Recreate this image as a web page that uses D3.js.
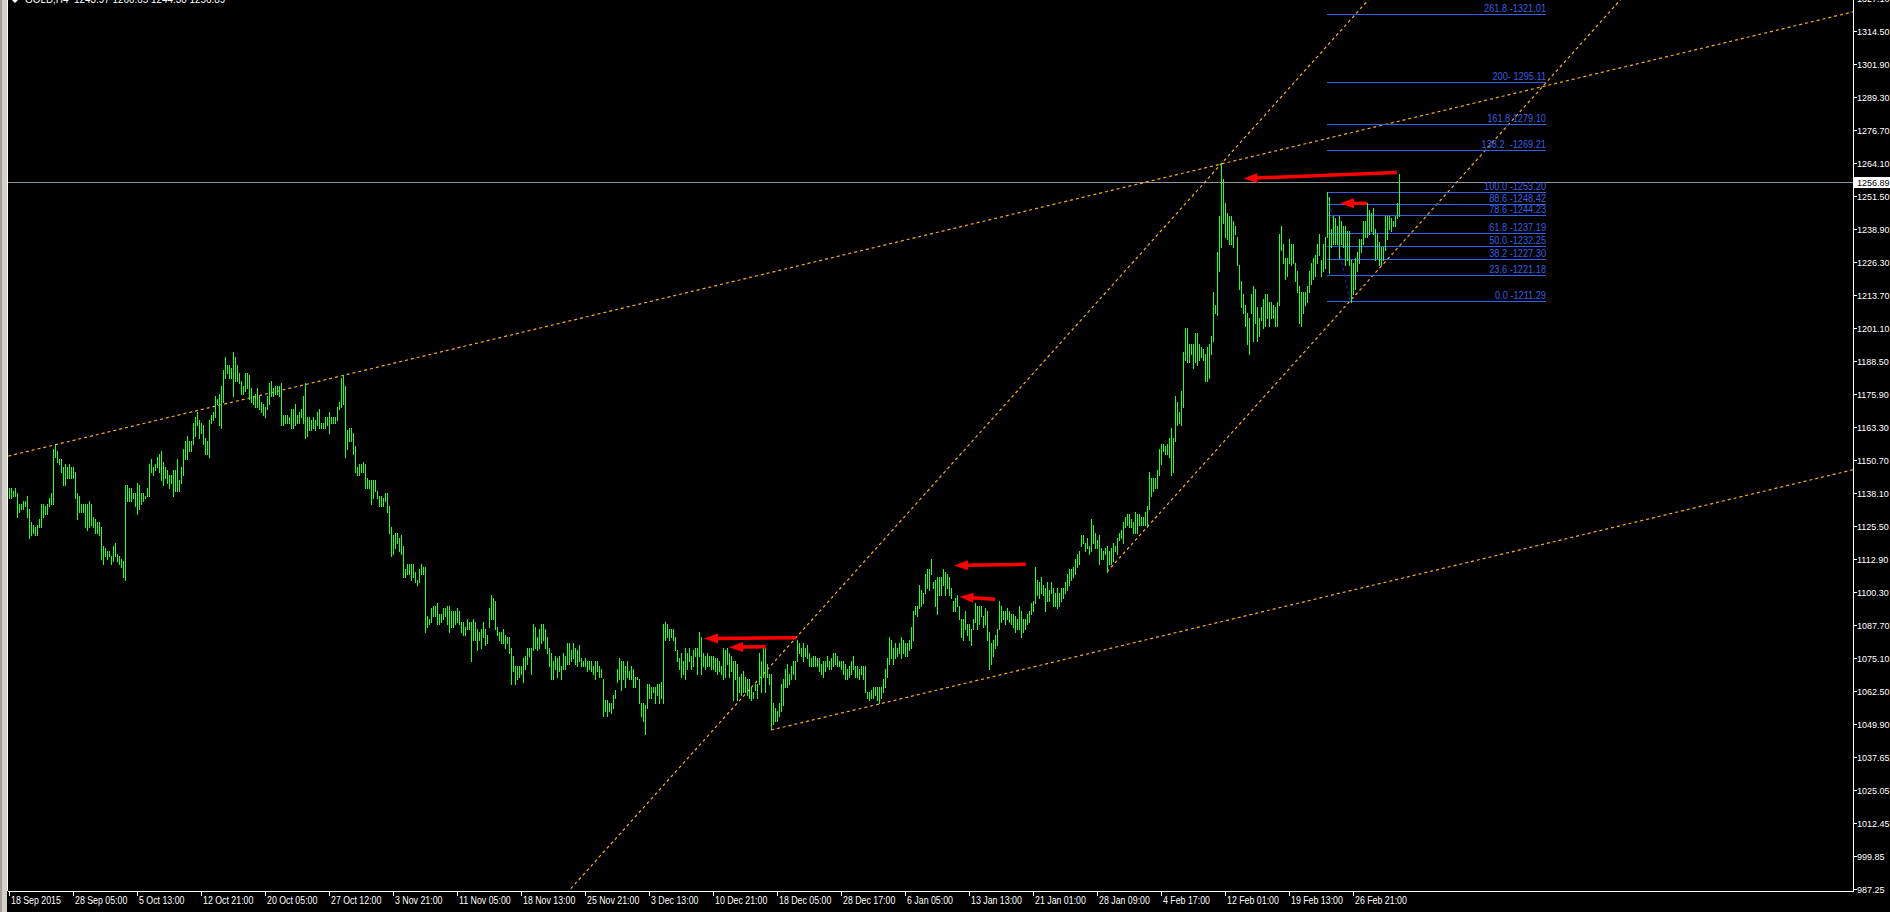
<!DOCTYPE html>
<meta charset="utf-8">
<style>
  body { margin: 0; background: #000; }
  svg { display: block; }
  text { font-family: "Liberation Sans", Arial, sans-serif; }
</style>
<body>
<script src="https://d3js.org/d3.v7.min.js"></script>
<script>
var width = 1890, height = 912;
var plotLeft = 8, plotRight = 1853, plotBottom = 891;

// GOLD H4 bars (high / low per bar)
var hi = [
  // 18 Sep - 3 Nov
  1140,1140,1139,1140,1138,1134,1134,1135,1135,1137,1132,1127,1126,1125,1126,1128,1134,1134,1133,1134,
  1136,1138,1155,1157,1154,1151,1151,1148,1149,1148,1149,1148,1148,1146,1138,1137,1134,1134,1134,1134,
  1135,1134,1129,1128,1127,1127,1125,1118,1117,1116,1116,1114,1118,1119,1115,1114,1113,1112,1141,1141,
  1140,1140,1138,1138,1142,1141,1138,1138,1137,1140,1149,1151,1148,1149,1152,1153,1154,1150,1148,1147,
  1145,1145,1147,1147,1151,1143,1148,1155,1158,1160,1158,1158,1165,1167,1169,1166,1165,1164,1159,1158,
  1166,1168,1169,1175,1174,1176,1179,1185,1190,1187,1187,1186,1192,1190,1187,1184,1181,1179,1184,1184,
  1183,1178,1175,1176,1178,1175,1173,1172,1171,1175,1180,1181,1178,1179,1179,1179,1180,1168,1168,1168,
  1167,1170,1170,1172,1168,1169,1170,1175,1180,1167,1167,1166,1167,1166,1169,1170,1165,1165,1167,1167,
  1169,1167,1167,1167,1171,1173,1182,1183,1179,1162,1163,1163,1161,1156,1148,1149,1149,1150,1149,1144,
  1143,1143,1143,1143,1139,1137,1137,1136,1138,1138,1133,1125,1122,1123,1123,1121,1122,1118,1109,1111,
  1111,1111,1111,1108,1105,1109,1111,1110,1110,1091,1090,1094,1095,1095,1096,1092,1092,1094,1094,1095,
  1095,1093,1093,1093,1094,1093,1089,1089,1087,1090,1089,
  // Nov - Jan
  1089,1090,1089,1086,1085,1086,1089,1086,1084,1094,1099,1098,1097,1087,1085,1085,1086,1084,1083,1083,
  1079,1076,1072,1072,1072,1072,1075,1076,1079,1079,1079,1088,1087,1083,1086,1088,1088,1086,1083,1079,
  1077,1074,1076,1075,1076,1072,1077,1076,1081,1081,1078,1081,1079,1078,1080,1075,1074,1075,1074,1074,
  1074,1072,1074,1074,1072,1071,1067,1059,1059,1058,1058,1061,1063,1071,1075,1074,1074,1072,1074,1070,
  1072,1071,1068,1068,1067,1058,1058,1057,1065,1065,1064,1064,1064,1065,1065,1066,1088,1089,1088,1086,
  1086,1086,1083,1078,1075,1077,1074,1079,1077,1079,1076,1078,1079,1079,1085,1083,1077,1076,1077,1076,
  1076,1076,1075,1075,1074,1072,1079,1078,1079,1077,1076,1074,1074,1073,1068,1069,1070,1068,1067,1067,
  1064,1062,1065,1065,1077,1074,1079,1079,1073,1069,1069,1058,1056,1055,1058,1065,1067,1071,1073,1069,
  1072,1074,1074,1082,1081,1079,1081,1079,1080,1077,1075,1076,1076,1075,1075,1073,1074,1074,1076,1074,
  1075,1077,1077,1076,1074,1074,1074,1073,1071,1072,1074,1076,1072,1072,1071,1072,1072,1072,1062,1062,
  1063,1064,1064,1064,1064,1064,1067,1071,1075,1083,1082,1079,1081,1079,1081,1083,1082,1081,1081,1082,
  1087,1093,1095,1095,1103,1101,1100,1107,1109,1109,1113,1104,1105,1106,1106,1106,1109,1108,1107,1106,
  1102,1097,1098,1099,1095,1090,1090,1093,1088,1088,1086,1090,1096,1095,1095,1095,1091,1094,1093,1085,
  1081,1082,1084,1086,1097,1095,1093,1093,1094,1093,1092,1092,1091,1090,1095,1093,1090,1090,1092,1093,
  1096,1097,1110,1105,1104,1106,1103,1102,1104,1101,1104,1102,1100,1102,1100,1102,1102,1104,1107,1109,
  1109,1110,1113,1115,1116,
  // late Jan - 11 Feb
  1122,1122,1119,1121,1118,1128,1126,1123,1120,1122,1117,1116,1117,1118,1116,1117,1119,1118,1121,1123,
  1124,1127,1129,1130,1130,1128,1127,1131,1130,1130,1129,1129,1131,1133,1146,1144,1144,1144,1147,1155,
  1157,1157,1156,1157,1159,1163,1159,1175,1173,1169,1177,1192,1201,1201,1195,1195,1195,1199,1199,1195,
  1194,1193,1191,1194,1195,1198,1215,1210,1230,1244,1264,
  // 11 Feb - 1 Mar
  1258,1249,1245,1244,1244,1242,1240,1236,1225,1219,1214,1210,1207,1205,1214,1217,1216,1209,1205,1209,
  1212,1214,1214,1211,1211,1210,1209,1211,1237,1240,1233,1228,1228,1235,1233,1233,1226,1223,1217,1215,
  1215,1215,1217,1223,1226,1228,1229,1233,1237,1227,1233,1236,1253,1251,1239,1244,1243,1240,1244,1242,
  1240,1240,1238,1238,1227,1226,1228,1230,1235,1235,1242,1242,1249,1246,1245,1247,1239,1237,1234,1232,
  1232,1244,1244,1244,1243,1242,1244,1249,1260
];
var lo = [
  1136,1136,1137,1137,1129,1131,1132,1132,1133,1129,1121,1122,1123,1122,1122,1125,1125,1129,1130,1130,
  1133,1134,1134,1152,1150,1149,1146,1141,1141,1144,1144,1144,1144,1136,1128,1131,1131,1131,1125,1124,
  1125,1126,1125,1123,1123,1122,1113,1111,1114,1113,1114,1111,1112,1114,1112,1111,1110,1106,1105,1135,
  1135,1135,1136,1133,1130,1132,1134,1135,1136,1137,1137,1146,1145,1147,1148,1146,1143,1141,1144,1142,
  1140,1142,1137,1139,1139,1139,1142,1145,1151,1151,1154,1154,1157,1160,1164,1159,1161,1157,1153,1153,
  1152,1165,1166,1167,1172,1164,1163,1173,1182,1184,1182,1182,1175,1181,1181,1180,1176,1176,1177,1178,
  1174,1173,1172,1171,1171,1170,1169,1168,1167,1170,1172,1175,1175,1176,1176,1175,1164,1164,1165,1165,
  1165,1163,1163,1164,1165,1165,1167,1165,1159,1160,1162,1162,1163,1162,1164,1163,1163,1163,1163,1164,
  1161,1165,1165,1165,1166,1170,1171,1172,1152,1155,1158,1158,1153,1146,1145,1145,1146,1146,1140,1140,
  1140,1134,1136,1139,1136,1133,1133,1133,1135,1131,1123,1114,1115,1117,1119,1116,1115,1106,1106,1107,
  1107,1105,1106,1104,1103,1104,1107,1107,1085,1087,1088,1089,1091,1091,1088,1088,1089,1090,1091,1088,
  1085,1087,1087,1088,1089,1088,1085,1084,1084,1086,1086,
  1074,1082,1082,1078,1082,1079,1083,1080,1081,1087,1090,1090,1086,1084,1082,1081,1081,1079,1081,1077,
  1065,1070,1065,1067,1068,1069,1066,1071,1073,1076,1069,1078,1079,1078,1079,1081,1082,1079,1077,1072,
  1067,1067,1071,1068,1070,1067,1071,1071,1073,1073,1074,1075,1073,1072,1074,1072,1072,1072,1070,1071,
  1070,1069,1067,1070,1068,1068,1053,1055,1053,1055,1054,1056,1060,1066,1067,1063,1067,1064,1068,1067,
  1067,1064,1064,1067,1058,1053,1051,1046,1056,1060,1060,1062,1058,1061,1058,1060,1058,1082,1083,1082,
  1083,1082,1078,1074,1071,1068,1069,1067,1071,1074,1071,1072,1076,1069,1076,1069,1072,1071,1072,1072,
  1071,1071,1070,1069,1070,1069,1067,1068,1073,1068,1070,1059,1067,1059,1062,1061,1062,1062,1061,1060,
  1059,1060,1063,1060,1065,1062,1068,1062,1068,1065,1048,1050,1051,1051,1053,1055,1057,1064,1064,1065,
  1067,1069,1067,1074,1077,1076,1074,1076,1075,1072,1072,1072,1072,1072,1070,1069,1068,1070,1072,1071,
  1071,1072,1073,1072,1072,1071,1069,1067,1067,1068,1069,1071,1068,1068,1067,1069,1067,1062,1060,1059,
  1060,1060,1061,1059,1058,1060,1062,1064,1068,1073,1075,1073,1075,1076,1077,1075,1077,1076,1076,1078,
  1079,1082,1092,1091,1094,1095,1096,1100,1102,1101,1107,1102,1095,1092,1099,1099,1103,1099,1102,1099,
  1098,1093,1093,1095,1090,1083,1082,1086,1084,1082,1080,1086,1089,1086,1088,1091,1087,1088,1082,1071,
  1073,1076,1079,1080,1086,1089,1090,1088,1090,1089,1088,1087,1085,1086,1086,1083,1085,1086,1088,1089,
  1092,1093,1096,1099,1098,1100,1099,1093,1097,1097,1100,1095,1095,1094,1095,1097,1098,1100,1101,1103,
  1105,1106,1107,1110,1111,
  1118,1119,1116,1117,1115,1116,1119,1117,1117,1111,1113,1113,1115,1108,1111,1111,1112,1116,1115,1120,
  1121,1119,1125,1126,1125,1125,1123,1123,1123,1126,1126,1126,1126,1125,1132,1137,1139,1140,1140,1145,
  1149,1154,1153,1153,1152,1145,1146,1158,1164,1165,1164,1171,1189,1188,1188,1191,1186,1188,1187,1189,
  1190,1189,1181,1181,1182,1191,1196,1207,1206,1223,1232,
  1241,1236,1235,1233,1233,1232,1237,1225,1216,1209,1207,1202,1195,1191,1207,1196,1203,1196,1198,1204,
  1201,1202,1205,1202,1205,1205,1202,1202,1210,1231,1226,1220,1221,1226,1225,1226,1219,1215,1203,1202,
  1207,1210,1211,1215,1218,1220,1221,1226,1229,1221,1223,1224,1236,1222,1232,1233,1233,1233,1228,1233,
  1232,1225,1227,1225,1211,1214,1216,1223,1226,1230,1233,1236,1236,1237,1238,1237,1227,1228,1225,1225,
  1227,1231,1235,1239,1238,1240,1240,1243,1244
];

var title = "GOLD,H4  1243.97 1260.05 1244.30 1256.89";
var lastPrice = 1256.89;

var dateLabels = ["18 Sep 2015","28 Sep 05:00","5 Oct 13:00","12 Oct 21:00","20 Oct 05:00","27 Oct 12:00",
  "3 Nov 21:00","11 Nov 05:00","18 Nov 13:00","25 Nov 21:00","3 Dec 13:00","10 Dec 21:00","18 Dec 05:00",
  "28 Dec 17:00","6 Jan 05:00","13 Jan 13:00","21 Jan 01:00","28 Jan 09:00","4 Feb 17:00","12 Feb 01:00",
  "19 Feb 13:00","26 Feb 21:00"];
var dateIdx = [0,32,64,96,128,160,192,224,256,288,320,352,384,416,448,480,512,544,576,608,640,672];

var priceTicks = [1327.1,1314.5,1301.9,1289.3,1276.7,1264.1,1251.5,1238.9,1226.3,1213.7,1201.1,1188.5,1175.9,
  1163.3,1150.7,1138.1,1125.5,1112.9,1100.3,1087.7,1075.1,1062.5,1049.9,1037.3,1024.7,1012.1,999.5,986.9];
var priceTickLabels = ["1327.10","1314.50","1301.90","1289.30","1276.70","1264.10","1251.50","1238.90","1226.30",
  "1213.70","1201.10","1188.50","1175.90","1163.30","1150.70","1138.10","1125.50","1112.90","1100.30","1087.70",
  "1075.10","1062.50","1049.90","1037.65","1025.05","1012.45","999.85","987.25"];

// fibonacci retracement
var fibLabels = ["0.0 -1211.29","23.6 -1221.18","38.2 -1227.30","50.0 -1232.25","61.8 -1237.19","78.6 -1244.23",
  "88.6 -1248.42","100.0 -1253.20","138.2  -1269.21","161.8 1279.10","200- 1295.11","261.8 -1321.01"];
var fibPrices = [1211.29,1221.18,1227.30,1232.25,1237.19,1244.23,1248.42,1253.20,1269.21,1279.10,1295.11,1321.01];
var fibAnchors = [[659, 1253.20], [670.5, 1211.29]];
var fibEnd = 768.5;

// trend lines: two points [bar, price], extended left and/or right
var trendLines = [
  { a: [23, 1156.5], b: [606, 1263.7], left: true },
  { a: [381, 1047.6], b: [540.5, 1076.9], left: false },
  { a: [349, 1045.0], b: [606, 1263.7], left: true },
  { a: [549, 1108.0], b: [669, 1210.1], left: false }
];

// red arrows: tail [bar, price] -> tip [bar, price]
var arrows = [
  [693.9, 1260.5, 617.2, 1258.2],
  [678.9, 1248.7, 665.5, 1248.7],
  [508.4, 1110.9, 472.5, 1110.4],
  [493.0, 1097.5, 475.2, 1098.5],
  [393.6, 1082.8, 347.5, 1082.5],
  [378.4, 1079.4, 360.0, 1079.2]
];

var x = d3.scaleLinear().domain([0, 695]).range([9, 1399]);
var y = d3.scaleLinear().domain([1314.5, 986.9]).range([31, 889]);

// squeeze text horizontally, the terminal font is narrow
function narrow(sel, f) {
  sel.each(function() {
    var w = this.getComputedTextLength();
    d3.select(this).attr("textLength", w * f).attr("lengthAdjust", "spacingAndGlyphs");
  });
}

var svg = d3.select("body").append("svg")
    .attr("width", width)
    .attr("height", height)
    .style("background", "#000");

svg.append("clipPath").attr("id", "plot")
  .append("rect").attr("x", plotLeft).attr("y", 0)
  .attr("width", plotRight - plotLeft).attr("height", plotBottom);

// window edge on the left
svg.append("rect").attr("x", 0).attr("y", 0).attr("width", 7).attr("height", height).attr("fill", "#d4d0c8");
svg.append("rect").attr("x", 0).attr("y", 0).attr("width", 2).attr("height", height).attr("fill", "#a0a0a0");
svg.append("line").attr("x1", 7.5).attr("x2", 7.5).attr("y1", 0).attr("y2", plotBottom)
  .attr("stroke", "#fff");

var g = svg.append("g").attr("clip-path", "url(#plot)");

// last price line
g.append("line")
  .attr("x1", plotLeft).attr("x2", plotRight)
  .attr("y1", Math.round(y(lastPrice)) + 0.5).attr("y2", Math.round(y(lastPrice)) + 0.5)
  .attr("stroke", "#8c96a0");

// trend lines
trendLines.forEach(function(t) {
  var x1 = x(t.a[0]), y1 = y(t.a[1]), x2 = x(t.b[0]), y2 = y(t.b[1]);
  var dx = x2 - x1, dy = y2 - y1;
  var k = 3000 / Math.sqrt(dx * dx + dy * dy);
  var sx = t.left ? x1 - dx * k : x1, sy = t.left ? y1 - dy * k : y1;
  g.append("line")
    .attr("x1", sx).attr("y1", sy)
    .attr("x2", x1 + dx * k).attr("y2", y1 + dy * k)
    .attr("stroke", "#ffaa22")
    .attr("stroke-width", 1.2)
    .attr("stroke-dasharray", "3,3");
});

// fibo levels
var fib = g.append("g");
fib.selectAll("line.lvl")
  .data(fibPrices)
  .join("line")
  .attr("class", "lvl")
  .attr("x1", x(fibAnchors[0][0])).attr("x2", x(fibEnd))
  .attr("y1", function(d) { return Math.round(y(d)) + 0.5; })
  .attr("y2", function(d) { return Math.round(y(d)) + 0.5; })
  .attr("stroke", "#3561e6");
fib.selectAll("text")
  .data(fibPrices)
  .join("text")
  .attr("x", x(fibEnd))
  .attr("y", function(d) { return Math.round(y(d)) - 2; })
  .attr("text-anchor", "end")
  .attr("font-size", 10)
  .attr("fill", "#3a5ee0")
  .style("white-space", "pre")
  .text(function(d, i) { return fibLabels[i]; })
  .call(narrow, 0.92);
fib.append("line")
  .attr("x1", x(fibAnchors[0][0])).attr("y1", y(fibAnchors[0][1]))
  .attr("x2", x(fibAnchors[1][0])).attr("y2", y(fibAnchors[1][1]))
  .attr("stroke", "#2424e0")
  .attr("stroke-dasharray", "3,3");

// bars
g.append("g")
  .selectAll("line")
  .data(hi)
  .join("line")
  .attr("x1", function(d, i) { return Math.round(x(i)) + 0.5; })
  .attr("x2", function(d, i) { return Math.round(x(i)) + 0.5; })
  .attr("y1", function(d) { return Math.round(y(d)); })
  .attr("y2", function(d, i) { return Math.round(y(lo[i])) + 1; })
  .attr("stroke", "#22ff22")
  .attr("shape-rendering", "crispEdges");

// red arrows
var headLen = 14, headHalf = 5;
arrows.forEach(function(a) {
  var x1 = x(a[0]), y1 = y(a[1]), x2 = x(a[2]), y2 = y(a[3]);
  var ang = Math.atan2(y2 - y1, x2 - x1);
  var bx = x2 - headLen * Math.cos(ang), by = y2 - headLen * Math.sin(ang);
  var px = -Math.sin(ang) * headHalf, py = Math.cos(ang) * headHalf;
  g.append("line")
    .attr("x1", x1).attr("y1", y1).attr("x2", bx + Math.cos(ang)).attr("y2", by + Math.sin(ang))
    .attr("stroke", "#ff0000").attr("stroke-width", 3.5);
  g.append("polygon")
    .attr("points", [[x2, y2], [bx + px, by + py], [bx - px, by - py]].map(function(p) { return p.join(","); }).join(" "))
    .attr("fill", "#ff0000");
});

// axes frame
svg.append("line").attr("x1", plotRight + 0.5).attr("x2", plotRight + 0.5)
  .attr("y1", 0).attr("y2", plotBottom + 1).attr("stroke", "#fff");
svg.append("line").attr("x1", plotLeft).attr("x2", plotRight + 1)
  .attr("y1", plotBottom + 0.5).attr("y2", plotBottom + 0.5).attr("stroke", "#fff");

// price scale
var py = svg.append("g");
py.selectAll("line")
  .data(priceTicks)
  .join("line")
  .attr("x1", plotRight + 1).attr("x2", plotRight + 4)
  .attr("y1", function(d) { return Math.round(y(d)) + 0.5; })
  .attr("y2", function(d) { return Math.round(y(d)) + 0.5; })
  .attr("stroke", "#fff");
py.selectAll("text")
  .data(priceTicks)
  .join("text")
  .attr("x", plotRight + 4)
  .attr("y", function(d) { return Math.round(y(d)) + 4; })
  .attr("font-size", 9)
  .attr("fill", "#fff")
  .text(function(d, i) { return priceTickLabels[i]; });

// last price box
svg.append("rect")
  .attr("x", plotRight + 1).attr("y", Math.round(y(lastPrice)) - 5)
  .attr("width", width - plotRight).attr("height", 11)
  .attr("fill", "#fff");
svg.append("text")
  .attr("x", plotRight + 4).attr("y", Math.round(y(lastPrice)) + 4)
  .attr("font-size", 9).attr("fill", "#000")
  .text(lastPrice.toFixed(2));

// time scale
var tx = svg.append("g");
tx.selectAll("line")
  .data(dateIdx)
  .join("line")
  .attr("x1", function(d) { return Math.round(x(d)) + 0.5; })
  .attr("x2", function(d) { return Math.round(x(d)) + 0.5; })
  .attr("y1", plotBottom + 1).attr("y2", plotBottom + 5)
  .attr("stroke", "#fff");
tx.selectAll("text")
  .data(dateIdx)
  .join("text")
  .attr("x", function(d) { return Math.round(x(d)) + 2; })
  .attr("y", plotBottom + 13)
  .attr("font-size", 10)
  .attr("fill", "#fff")
  .text(function(d, i) { return dateLabels[i]; })
  .call(narrow, 0.88);

// title, cut by the top edge
svg.append("polygon").attr("points", "12,0 18,0 15,3").attr("fill", "#fff");
svg.append("text")
  .attr("x", 25).attr("y", 3)
  .attr("font-size", 11)
  .attr("fill", "#fff")
  .style("white-space", "pre")
  .text(title)
  .call(narrow, 0.9);
</script>
</body>
</html>
